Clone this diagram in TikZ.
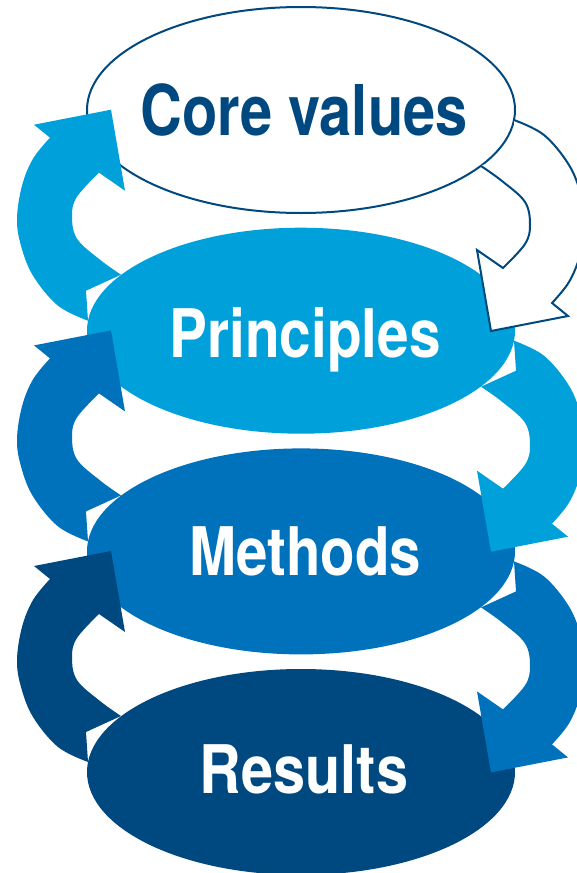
\documentclass[tikz,border=0pt]{standalone}
\usepackage{fontspec}
\setmainfont{TeX Gyre Heros}
\usetikzlibrary{shapes.geometric}
\definecolor{lightb}{RGB}{0,160,218}
\definecolor{midb}{RGB}{0,114,187}
\definecolor{darkb}{RGB}{0,73,128}
\tikzset{
  ell/.style={ellipse, inner sep=0pt, outer sep=0pt, minimum width=428pt, minimum height=206pt},
  lbl/.style={inner sep=0pt, anchor=base, font=\bfseries\fontsize{67}{70}\selectfont},
  rarrow/.pic={\path[pic actions]
     plot[smooth,tension=0.6] coordinates {(213,10) (243,25) (268,55) (280,85) (284,112) (279,145) (268,172) (251,193)}
     -- (267,206) -- (190,221) -- (176,140)
     -- plot[smooth,tension=0.6] coordinates {(202,158) (224,134) (229,115) (224,92) (201,71) (180,56)}
     -- (215,40) -- cycle;},
  rarrowline/.pic={\path[pic actions]
     plot[smooth,tension=0.6] coordinates {(213,10) (243,25) (268,55) (280,85) (284,112) (279,145) (268,172) (251,193)}
     -- (267,206) -- (190,221) -- (176,140)
     -- plot[smooth,tension=0.6] coordinates {(202,158) (224,134) (229,115) (224,92) (201,71) (180,56)};}
}
\begin{document}
\begin{tikzpicture}[x=1pt,y=-1pt,line join=miter]
\useasboundingbox (0,0) rectangle (577,873);
\clip (0,0) rectangle (577,873);
\fill[white] (0,0) rectangle (577,873);
% Core values ellipse
\node[ell, fill=white, draw=darkb, line width=2pt] (E0) at (301,110) {};
% Principles
\node[ell, fill=lightb] (E1) at (301,330.7) {};
\pic[fill=lightb, rotate=180] at (E1.center) {rarrow};
% Core values arrow down
\pic[fill=white] at (E0.center) {rarrow};
\pic[draw=darkb, line width=2pt] at (E0.center) {rarrowline};
% Methods
\node[ell, fill=midb] (E2) at (301,551.4) {};
\pic[fill=midb, rotate=180] at (E2.center) {rarrow};
\pic[fill=lightb] at (E1.center) {rarrow};
% Results
\node[ell, fill=darkb] (E3) at (301,772) {};
\pic[fill=darkb, rotate=180] at (E3.center) {rarrow};
\pic[fill=midb] at (E2.center) {rarrow};
% labels
\node[lbl, text=darkb] (tcore) at (304,135) {\fontsize{70}{72}\selectfont\scalebox{0.826}[1]{Core values}};
\node[lbl, text=white] (tprin) at (305,357) {\scalebox{0.847}[1]{Principles}};
\node[lbl, text=white] (tmeth) at (305,575) {\scalebox{0.843}[1]{Methods}};
\node[lbl, text=white] (tres) at (304,793) {\scalebox{0.86}[1]{Results}};
\end{tikzpicture}
\end{document}
